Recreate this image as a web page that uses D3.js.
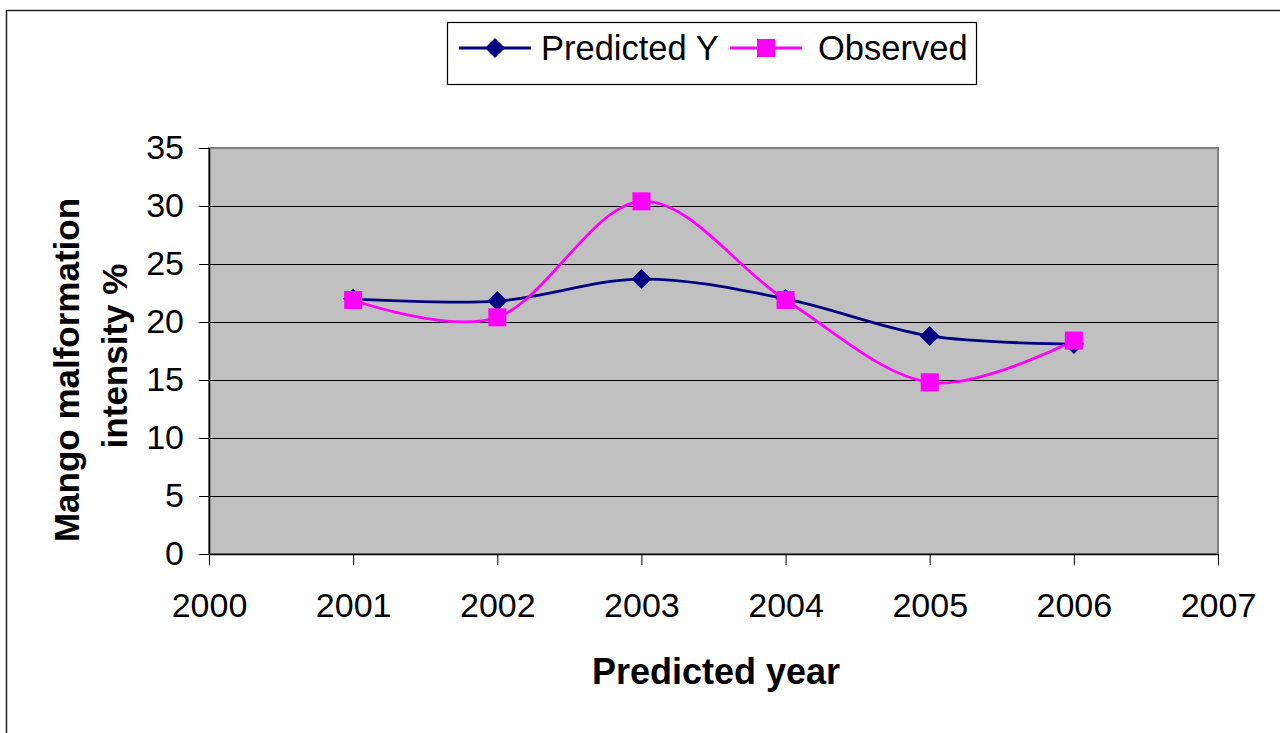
<!DOCTYPE html>
<html>
<head>
<meta charset="utf-8">
<script src="https://cdn.jsdelivr.net/npm/d3@7"></script>
<style>
  html, body { margin: 0; padding: 0; background: #fff; }
  svg { display: block; font-family: "Liberation Sans", Arial, sans-serif; }
</style>
</head>
<body>
<svg id="chart" width="1280" height="733"></svg>
<script>
// Years on the x axis and the two series
const years = [2001, 2002, 2003, 2004, 2005, 2006];
const predictedY = [22.0, 21.8, 23.7, 22.0, 18.8, 18.1];
const observed = [21.9, 20.4, 30.4, 21.9, 14.8, 18.4];
const xTicks = [2000, 2001, 2002, 2003, 2004, 2005, 2006, 2007];
const yTicks = [0, 5, 10, 15, 20, 25, 30, 35];
const seriesNames = ["Predicted Y", "Observed"];

const svg = d3.select("#chart");
const plot = { left: 209, right: 1218, top: 148, bottom: 554 };

const x = d3.scaleLinear().domain([2000, 2007]).range([plot.left, plot.right]);
const y = d3.scaleLinear().domain([0, 35]).range([plot.bottom, plot.top]);

// outer frame
svg.append("rect")
  .attr("x", 6.5).attr("y", 10.5)
  .attr("width", 1300).attr("height", 800)
  .attr("fill", "#fff").attr("stroke", "#222").attr("stroke-width", 1.5);

// plot area
svg.append("rect")
  .attr("x", plot.left).attr("y", plot.top)
  .attr("width", plot.right - plot.left).attr("height", plot.bottom - plot.top)
  .attr("fill", "#c0c0c0").attr("stroke", "#808080").attr("stroke-width", 2);

// horizontal gridlines
svg.append("g").selectAll("line")
  .data(yTicks.filter(d => d > 0 && d < 35))
  .join("line")
  .attr("x1", plot.left).attr("x2", plot.right)
  .attr("y1", d => Math.round(y(d)) + 0.5).attr("y2", d => Math.round(y(d)) + 0.5)
  .attr("stroke", "#000").attr("stroke-width", 1);

// axes
const yAxis = d3.axisLeft(y).tickValues(yTicks).tickSize(10).tickPadding(15).tickFormat(d3.format("d"));
const xAxis = d3.axisBottom(x).tickValues(xTicks).tickSize(11).tickPadding(28).tickFormat(d3.format("d"));

const gy = svg.append("g").attr("transform", `translate(${plot.left},0)`).call(yAxis);
const gx = svg.append("g").attr("transform", `translate(0,${plot.bottom})`).call(xAxis);

[gx, gy].forEach(g => {
  g.select(".domain").attr("stroke", "#000").attr("stroke-width", 1.5);
  g.selectAll(".tick line").attr("stroke", "#000");
  g.selectAll(".tick text")
    .attr("fill", "#000")
    .style("font-size", "34px")
    .style("font-family", "'Liberation Sans', Arial, sans-serif");
});
gx.select(".domain").attr("d", `M${plot.left},0.5H${plot.right}`);
gy.select(".domain").attr("d", `M0.5,${plot.top}V${plot.bottom}`);

// series lines (smoothed)
const line = d3.line()
  .x((d, i) => x(years[i]))
  .y(d => y(d))
  .curve(d3.curveCardinal.tension(0));

svg.append("path").datum(predictedY)
  .attr("d", line).attr("fill", "none")
  .attr("stroke", "#000080").attr("stroke-width", 2.8);
svg.append("path").datum(observed)
  .attr("d", line).attr("fill", "none")
  .attr("stroke", "#ff00ff").attr("stroke-width", 2.8);

// markers
const diamond = (cx, cy, r) => `M${cx},${cy - r}L${cx + r},${cy}L${cx},${cy + r}L${cx - r},${cy}Z`;

svg.append("g").selectAll("path")
  .data(predictedY)
  .join("path")
  .attr("d", (d, i) => diamond(x(years[i]), y(d), 10))
  .attr("fill", "#000080");

svg.append("g").selectAll("rect")
  .data(observed)
  .join("rect")
  .attr("x", (d, i) => x(years[i]) - 9)
  .attr("y", d => y(d) - 9)
  .attr("width", 18).attr("height", 18)
  .attr("fill", "#ff00ff");

// axis titles
svg.append("text")
  .attr("x", 716).attr("y", 684)
  .attr("text-anchor", "middle")
  .style("font-size", "36px").style("font-weight", "bold")
  .text("Predicted year");

const yTitle = svg.append("g");
yTitle.append("text")
  .attr("transform", "translate(79,370) rotate(-90)")
  .attr("text-anchor", "middle")
  .style("font-size", "35px").style("font-weight", "bold")
  .text("Mango malformation");
yTitle.append("text")
  .attr("transform", "translate(127,356) rotate(-90)")
  .attr("text-anchor", "middle")
  .style("font-size", "35px").style("font-weight", "bold")
  .text("intensity %");

// legend
const legend = svg.append("g");
legend.append("rect")
  .attr("x", 447.5).attr("y", 22.5).attr("width", 529).attr("height", 62)
  .attr("fill", "#fff").attr("stroke", "#000").attr("stroke-width", 1.2);

const legendItems = [
  { name: seriesNames[0], color: "#000080", x0: 459, tx: 541, shape: "diamond" },
  { name: seriesNames[1], color: "#ff00ff", x0: 730, tx: 818, shape: "square" }
];
legendItems.forEach(it => {
  const cy = 48;
  legend.append("line")
    .attr("x1", it.x0).attr("x2", it.x0 + 72)
    .attr("y1", cy).attr("y2", cy)
    .attr("stroke", it.color).attr("stroke-width", 2.8);
  const mx = it.x0 + 36;
  if (it.shape === "diamond") {
    legend.append("path").attr("d", diamond(mx, cy, 10)).attr("fill", it.color);
  } else {
    legend.append("rect").attr("x", mx - 9).attr("y", cy - 9)
      .attr("width", 18).attr("height", 18).attr("fill", it.color);
  }
  legend.append("text")
    .attr("x", it.tx).attr("y", cy + 12)
    .style("font-size", "34.5px")
    .text(it.name);
});
</script>
</body>
</html>
